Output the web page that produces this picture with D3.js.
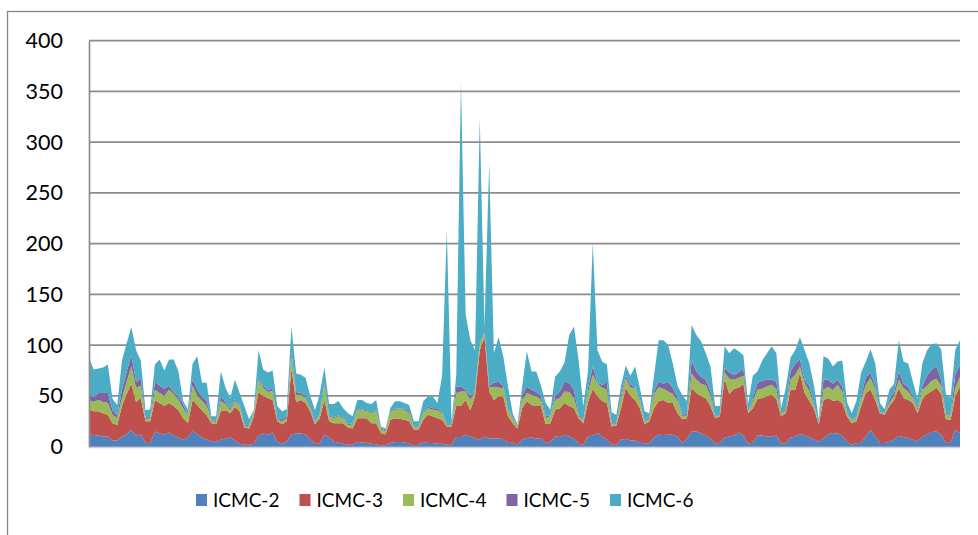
<!DOCTYPE html>
<html><head><meta charset="utf-8">
<script src="https://cdn.jsdelivr.net/npm/d3@7"></script>
<style>body{margin:0;background:#fff}svg{display:block}</style>
</head><body>
<svg id="c" width="978" height="535"></svg>
<script>
const seriesNames = ["ICMC-2","ICMC-3","ICMC-4","ICMC-5","ICMC-6"];
const colors = ["#4F81BD","#C0504D","#9BBB59","#8064A2","#4BACC6"];
const yTicks = [0,50,100,150,200,250,300,350,400];

const icmc2 = [12,11.5,11,10,10,6,6,10,12,16.7,11,12,4,3.6,15,13,12,14,11,9,7,9,16,12,9,7,5,5,7,8,
9,6,3,2,2,3,11,13,12,14,5,3,5,12,13,13,12,7,3,3,12,9,5,4,3,2,2,5,4,4,
3,2.5,1.5,1.5,3.6,4.6,4.6,4.3,3,1.5,2,4.6,3.6,3.6,3,3,2,2,9.5,9.5,11.8,10,8,7,10,8,8,8,7.5,3.6,
4,2,7,8.5,9,8,8.5,3.5,5,10,9.5,11.8,10,8,3,2,10,11,13.5,10,7,2,2,7,7.5,6,6,4,3.5,3.5,
9,11.8,11.5,11.8,11.8,10,3.5,8,15,15,13,11,8,3,4,9,10,11,14,11,3,4,11,11,10,10,11,3,3.5,9,
10,12.5,11,9,7,5,8,12,13.5,13,11,5,2,3.5,4,10,16.7,10,3.6,3.6,5,7,10.8,9.5,8.5,7,5,10,11.8,14.5,
15,12,3.6,4,16.7,13.5];
const icmc3 = [25,23.5,24,23,21.5,17,15.7,30,40,45.3,33,36,21,21.4,31,30,28,29,29,27,21,14,30,29,27,24,18,17,28,28,
24,33,32,17,16,27,43,37,36,32,20,19,20,65,31,33,31,28,19,25,34,16,18,19,20,17,16,23,24,24,
20,20.5,12,10.5,23,23.4,23,22.3,22,15.5,15,22,27.9,26.4,25,23.6,18,18,30.5,30.5,34.2,26,42,88,98,46.5,38,41.6,42,26.4,
19,16,31,36.2,32,32,31.5,18.5,18,26.5,28.5,31.2,30,30,25,21,34,46,36.5,35,36,18,19,31,50.5,44,40,34,18.5,21.5,
29,33.2,34.5,31.2,31.2,23,23.5,20,43,38,36.6,37,32,25,26,58,42,46,44,51,30,34,36,37,39.6,41,36,27,29.5,47,
46,60,42,36,30,17,38,36,31.5,33,32,25,21,21.5,36,43,39.3,36,29.4,27.9,35,39,47,38.5,37.5,36,28,37,40.2,40.5,
43,40,23.4,22.6,32.9,45.9];
const icmc4 = [9,9,11,11,11.5,8.5,6.3,8,12,17,14,12,2,3,10,10,10,13,12,10,10,7,14,9,9,9,3,2,10,6,
3,6,5,2,2,4,12,8,6,9,1,3,3,12,7,5,5,3,1,4,15,5,5,7,5,2,4,8,8,7,
10,12,3.5,3,8,8.5,9,9.9,8,2,2,6.4,6.5,6.5,8,6.4,1,1,13,14.5,8.5,10,5,6,4,3.5,13,8.4,8.4,6,
5,2,8,8.3,10,9.6,6,6,7,9.5,10,11.5,14,10,2,2,10,14,12,13,13,2,1,9,9,8,12,7,2,3,
14,13.5,11,11.5,9,12,3,3,14,13,12.4,12.5,10,0.5,2,6,15,9,10,8,0.5,7,9,9,9.8,10,9.5,3,3,10,
15,6.4,9.7,10,3,1,10,11,10.5,15,11,3,3,3,7,8,11.6,10,0.5,2,3,4,8.2,9.8,8.5,5,3,9,8,10,
9,8,4,4.4,8.2,9.6];
const icmc5 = [5,5,7,9,10,4.5,3,8,10,11,6,7,1,2,8,7,7,4,2,3,4,1,7,6,4,5,1,1,5,2,
2,2,1,1,1,1,2,2,2,2,1,2,2,4,3,2,2,2,1,1,2,1,1,1,1,1,1,1,1,1,
1,1,1,1,1,1,1,1,2,1,1,1,1.5,1.5,2,1,1,1,6,5,1.5,4,1,1,1,2,4,6,2,1,
1,1,5,6.4,5,4.4,4,2,1,3.6,6.5,9.5,9,8,2,0.5,4,8,1,3,8,1,1,4,3,3,1,2,1,2,
3,5.5,5,9.5,6,3,1,2,13,8,7,5.5,5,0.5,1.5,5,6,5,5,7,0.5,3,7,8,6.6,5,7.5,1,2,8,
11,7,3.3,5,2,0.5,10,7,6.5,5,5,0.5,0.5,1,3,8,5,4,0.5,0.5,3,4,8,4.2,4.5,1.6,2,4,10,11,
12,6,1,1,13.2,11.8];
const icmc6 = [37,27,24,25,28,11,10,29,28,28,31,18,8,7,17,26,18,26,32,25,3,6,15,33,14,18,3,5,24,14,
10,19,12,18,6,1,27,16,17,18,13,8,7,25,18,18,18,10,12,19,15,11,13,14,9,11,7,9,9,7,
8,10,2,2,2.5,7.2,7.2,5.5,6,5,5,10.7,10.1,11.6,5,36,192,3,11,300,74,55,39,222,5,219,29,44,29,22,
4,1,8,34.6,18,20,10,13,5.5,19.4,19.5,19,47,62.5,53,14.5,17,122,32,23,17,11,8.5,9,10,9,20,11,10,3,
15,41,43,36.5,24,12,20,12,35,36,35,26,24,11,6.5,21,19,26,21,13,8,22,11,20,26,33,28,4,20,14,
13,22,29,22,18,3.5,23,21,17,18,26,10.5,6.5,16,23,15,23.4,22,9,3,10,8,30.8,22,23,14.4,9,22,25,25,
23,30,20,16,24.6,24.2];

const data = icmc2.map((v,i)=>({i, "ICMC-2":v, "ICMC-3":icmc3[i], "ICMC-4":icmc4[i], "ICMC-5":icmc5[i], "ICMC-6":icmc6[i]}));

const svg = d3.select("#c");
const L = 89, R = 960, T = 40.7, B = 446.7;
const x = d3.scaleLinear().domain([0, data.length-1]).range([L, R]);
const y = d3.scaleLinear().domain([0, 400]).range([B, T]);
const font = "Lato, 'Open Sans', sans-serif";

// outer border (extends past right and bottom edges)
svg.append("rect").attr("x",7.5).attr("y",11.5).attr("width",1000).attr("height",600)
  .attr("fill","none").attr("stroke","#868686").attr("stroke-width",1.3);

// x axis baseline (light)
svg.append("line").attr("x1",L).attr("x2",R).attr("y1",B+0.8).attr("y2",B+0.8)
  .attr("stroke","#d0d0d0").attr("stroke-width",1.5);

// gridlines
svg.append("g").selectAll("line").data(yTicks.filter(d=>d>0)).join("line")
  .attr("x1",L).attr("x2",R).attr("y1",d=>y(d)).attr("y2",d=>y(d))
  .attr("stroke","#8c8c8c").attr("stroke-width",1.7);

const stack = d3.stack().keys(seriesNames);
const layers = stack(data);
const area = d3.area().x(d=>x(d.data.i)).y0(d=>y(d[0])).y1(d=>y(d[1]));
svg.append("g").selectAll("path").data(layers).join("path")
  .attr("d", area).attr("fill",(d,k)=>colors[k]);

// y axis
const yAxis = d3.axisLeft(y).tickValues(yTicks).tickSize(0).tickPadding(26);
const gy = svg.append("g").attr("transform",`translate(${L},0)`).call(yAxis);
gy.select(".domain").attr("stroke","#8c8c8c").attr("stroke-width",1.7);
gy.selectAll("text").attr("font-family",font).attr("font-size",21.5).attr("fill","#000");

// legend
const lg = svg.append("g");
const lx = d3.scaleLinear().domain([0,4]).range([196,610]);
seriesNames.forEach((n,k)=>{
  lg.append("rect").attr("x",lx(k)).attr("y",494).attr("width",11).attr("height",12).attr("fill",colors[k]);
  lg.append("text").attr("x",lx(k)+17).attr("y",507).text(n)
    .attr("font-family",font).attr("font-size",19).attr("fill","#000");
});
</script>
</body></html>
